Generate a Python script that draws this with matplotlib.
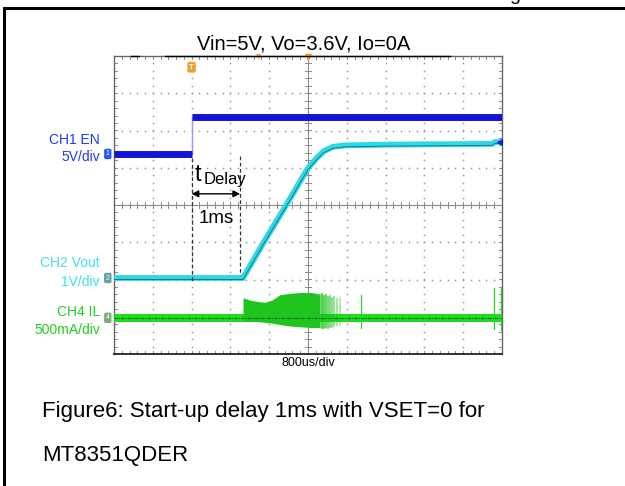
import numpy as np
import matplotlib
matplotlib.use("Agg")
import matplotlib.pyplot as plt
from matplotlib.lines import Line2D
import matplotlib.transforms as mtransforms

plt.rcParams['font.family'] = ['Liberation Sans', 'DejaVu Sans']

# time base 0.8 ms/div, trigger (EN rising edge) at t = 0
t_left, t_right = -1.6, 6.4
ms_per_div = 0.8

# CH1 EN (V), 5 V/div
en_t = [-1.6, 0.0, 0.0, 6.4]
en_v = [0.0, 0.0, 5.0, 5.0]

# CH2 Vout (V), 1 V/div
vout_t = [-1.6, 1.06, 1.47, 1.97, 2.40, 2.58, 2.72, 2.91, 3.16, 4.0, 5.0, 6.2, 6.25, 6.4]
vout_v = [0.0, 0.0, 0.92, 2.0, 2.95, 3.22, 3.40, 3.52, 3.56, 3.58, 3.59, 3.60, 3.65, 3.65]

# CH4 IL (A), 500 mA/div: switching envelope during soft-start
burst_t = [1.06, 1.20, 1.35, 1.51, 1.66, 1.82, 2.03, 2.24, 2.48, 2.65]
burst_hi = [0.27, 0.24, 0.22, 0.21, 0.24, 0.31, 0.33, 0.34, 0.34, 0.32]
burst_lo = [-0.03, -0.04, -0.05, -0.06, -0.07, -0.09, -0.11, -0.12, -0.13, -0.13]
tail_t = [2.69, 2.73, 2.77, 2.81, 2.85, 2.90, 2.94, 3.00, 3.06]
tail_hi = [0.32, 0.30, 0.31, 0.28, 0.30, 0.27, 0.28, 0.25, 0.26]
tail_lo = [-0.13, -0.13, -0.12, -0.13, -0.12, -0.12, -0.11, -0.1, -0.1]
spike_t = [3.49, 6.24, 6.38]
spike_hi = [0.31, 0.40, 0.40]
spike_lo = [-0.14, -0.15, -0.16]
il_noise = 0.05

# channel scales and screen offsets (div)
en_scale, en_off = 5.0, 1.37
vout_scale, vout_off = 1.0, -1.96
il_scale, il_off = 0.5, -3.03

delay_ms = 1.0

W, H = 625, 486
fig = plt.figure(figsize=(W / 100, H / 100), dpi=100)

def fx(x):
    return x / W

def fy(y):
    return 1 - y / H

# page frame around the figure
fig.add_artist(Line2D([fx(4), fx(625)], [fy(8), fy(8)], color='black', lw=2.2))
fig.add_artist(Line2D([fx(4), fx(4)], [fy(8), fy(486)], color='black', lw=2.2))
fig.text(fx(515), fy(-4), 'g', fontsize=14, ha='center', va='center')

ax = fig.add_axes([fx(114), fy(354), fx(502) - fx(114), fy(56) - fy(354)])
ax.set_xlim(t_left, t_right)
ax.set_ylim(-4, 4)
ax.set_xticks([])
ax.set_yticks([])
for s in ax.spines.values():
    s.set_color('#666666')
    s.set_linewidth(1.0)
ax.spines['bottom'].set_color('#222222')
ax.spines['bottom'].set_linewidth(1.3)

# scope graticule
grid_c = '#9a9a9a'
xdiv = np.arange(t_left, t_right + 1e-9, ms_per_div)
ydiv = np.arange(-4, 4.01, 1.0)
fine_y = np.arange(-4, 4.01, 0.2)
fine_x = np.arange(t_left, t_right + 1e-9, ms_per_div / 5)
xc = (t_left + t_right) / 2
for xv in xdiv[1:-1]:
    if abs(xv - xc) > 1e-6:
        ax.plot(np.full_like(fine_y, xv), fine_y, ls='none', marker='s', ms=1.1,
                mew=0, color=grid_c, zorder=1)
for yv in ydiv[1:-1]:
    if abs(yv) > 1e-6:
        ax.plot(fine_x, np.full_like(fine_x, yv), ls='none', marker='s', ms=1.1,
                mew=0, color=grid_c, zorder=1)
ax.axvline(xc, color='#8a8a8a', lw=0.8, zorder=1)
ax.axhline(0, color='#8a8a8a', lw=0.8, zorder=1)
tk = 0.09
for yv in fine_y:
    ax.plot([xc - tk * ms_per_div, xc + tk * ms_per_div], [yv, yv], color='#8a8a8a', lw=0.7, zorder=1)
    ax.plot([t_left, t_left + tk * ms_per_div], [yv, yv], color='#8a8a8a', lw=0.7, zorder=1)
    ax.plot([t_right - tk * ms_per_div, t_right], [yv, yv], color='#8a8a8a', lw=0.7, zorder=1)
for xv in fine_x:
    ax.plot([xv, xv], [-tk, tk], color='#8a8a8a', lw=0.7, zorder=1)
    ax.plot([xv, xv], [-4, -4 + tk], color='#8a8a8a', lw=0.7, zorder=1)
    ax.plot([xv, xv], [4 - tk, 4], color='#8a8a8a', lw=0.7, zorder=1)

# CH4 inductor current
il_c = '#22DA22'
ax.fill_between([t_left, t_right], il_off - il_noise / il_scale, il_off + il_noise / il_scale,
                color=il_c, lw=0, zorder=3)
ax.plot([t_left, t_right], [il_off, il_off], color='#0B700B', lw=0.8, ls=(0, (3, 1, 1, 1)), zorder=4)
ax.fill_between(burst_t, il_off + np.array(burst_lo) / il_scale,
                il_off + np.array(burst_hi) / il_scale, color='#1FC41F', lw=0, zorder=3)
for t, hi, lo, a in zip(tail_t, tail_hi, tail_lo, np.linspace(0.9, 0.4, len(tail_t))):
    ax.plot([t, t], [il_off + lo / il_scale, il_off + hi / il_scale], color='#18C018',
            lw=1.2, alpha=a, zorder=3)
for t, hi, lo in zip(spike_t, spike_hi, spike_lo):
    ax.plot([t, t], [il_off + lo / il_scale, il_off + hi / il_scale], color=il_c, lw=0.9, zorder=3)

# CH2 Vout
vy = vout_off + np.array(vout_v) / vout_scale
ax.plot(vout_t, vy, color='#2FD8E6', lw=4.2, solid_capstyle='butt', zorder=5)
ax.plot(vout_t, vy - 0.04, color='#167E8A', lw=0.7, zorder=6)
ax.plot([vout_t[-1] - 0.04], [vy[-1]], marker='<', ms=4, color='#1020E0', zorder=7)

# CH1 EN
ey = en_off + np.array(en_v) / en_scale
ax.plot(en_t[:2], ey[:2], color='#1414D8', lw=5.0, solid_capstyle='butt', zorder=5)
ax.plot(en_t[2:], ey[2:], color='#1414D8', lw=5.0, solid_capstyle='butt', zorder=5)
ax.plot(en_t[1:3], ey[1:3], color='#9A9AE6', lw=1.0, zorder=4)

# delay annotation
ax.plot([0, 0], [en_off - 0.12, vout_off - 0.1], color='#333333', lw=0.9, ls=(0, (3, 2)), zorder=6)
ax.plot([delay_ms, delay_ms], [en_off - 0.06, vout_off + 0.08], color='#333333', lw=0.9,
        ls=(0, (3, 2)), zorder=6)
ax.annotate('', xy=(0, 0.3), xytext=(delay_ms, 0.3),
            arrowprops=dict(arrowstyle='<|-|>', color='black', lw=1.0,
                            mutation_scale=10, shrinkA=0, shrinkB=0), zorder=7)
ax.text(0.07, 0.8, 't', fontsize=17, ha='left', va='center', zorder=7)
ax.text(0.25, 0.68, 'Delay', fontsize=12, ha='left', va='center', zorder=7)
ax.text(delay_ms / 2, -0.35, '%gms' % delay_ms, fontsize=13.5, ha='center', va='center', zorder=7)

# channel ground markers at the left edge
btrans = mtransforms.blended_transform_factory(ax.transAxes, ax.transData)
for off, num, c in [(en_off, '1', '#2A5AF0'), (vout_off, '2', '#6A9E9E'), (il_off, '4', '#7AAA7A')]:
    ax.text(-0.016, off, num, transform=btrans, fontsize=5, color='white', ha='center', va='center',
            bbox=dict(boxstyle='round,pad=0.25', fc=c, ec='none'), clip_on=False, zorder=8)

# trigger markers
ax.text(0, 3.7, 'T', fontsize=5.5, color='white', ha='center', va='center', fontweight='bold',
        bbox=dict(boxstyle='round,pad=0.25', fc='#F4A030', ec='none'), zorder=8)
ax.plot([2.4], [3.97], marker='v', ms=4, color='#F4A030', clip_on=False, zorder=8)
ax.plot([1.37], [3.99], marker='v', ms=2.5, color='#F4A030', clip_on=False, zorder=8)

# channel labels
fig.text(fx(100), fy(140), 'CH1 EN', fontsize=10, color='#1E3CE6', ha='right', va='center')
fig.text(fx(100), fy(157), '5V/div', fontsize=10, color='#1E3CE6', ha='right', va='center')
fig.text(fx(100), fy(263), 'CH2 Vout', fontsize=10, color='#3FE0F0', ha='right', va='center')
fig.text(fx(100), fy(282), '1V/div', fontsize=10, color='#3FE0F0', ha='right', va='center')
fig.text(fx(100), fy(312), 'CH4 IL', fontsize=10, color='#22D022', ha='right', va='center')
fig.text(fx(100), fy(330), '500mA/div', fontsize=10, color='#22D022', ha='right', va='center')

fig.text(fx(308), fy(363), '800us/div', fontsize=9, ha='center', va='center')

# heading over the screen capture
fig.add_artist(Line2D([fx(165), fx(450)], [fy(56.5), fy(56.5)], color='black', lw=1.0))
fig.add_artist(Line2D([fx(131), fx(139)], [fy(56.5), fy(56.5)], color='black', lw=1.0))
fig.text(fx(304), fy(44), 'Vin=5V, Vo=3.6V, Io=0A', fontsize=14.5, ha='center', va='center')

fig.text(fx(42), fy(411), 'Figure6: Start-up delay 1ms with VSET=0 for', fontsize=16,
         ha='left', va='center')
fig.text(fx(42), fy(456), 'MT8351QDER', fontsize=16, ha='left', va='center')

fig.savefig('out.png', dpi=100)
